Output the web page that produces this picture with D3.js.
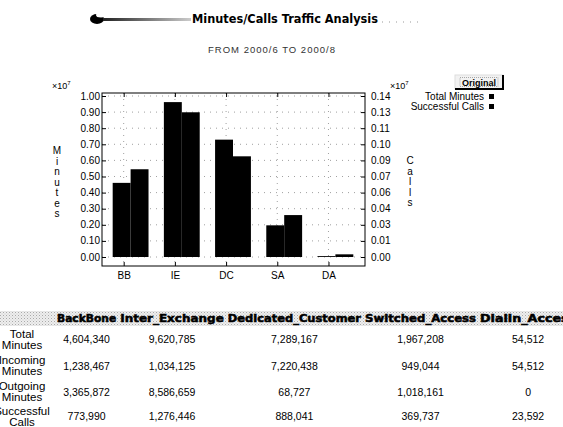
<!DOCTYPE html>
<html>
<head>
<meta charset="utf-8">
<script src="https://cdn.jsdelivr.net/npm/d3@7"></script>
<style>
  html, body { margin: 0; padding: 0; background: #fff; overflow: hidden; }
  svg { display: block; font-family: "Liberation Sans", Arial, sans-serif; }
</style>
</head>
<body>
<svg id="chart" width="563" height="427"></svg>
<script>
// chart data
const categories = ["BB", "IE", "DC", "SA", "DA"];
const totalMinutes = [4604340, 9620785, 7289167, 1967208, 54512];
const successfulCalls = [773990, 1276446, 888041, 369737, 23592];
const leftTickLabels = ["0.00", "0.10", "0.20", "0.30", "0.40", "0.50", "0.60", "0.70", "0.80", "0.90", "1.00"];
const rightTickLabels = ["0.00", "0.01", "0.03", "0.04", "0.06", "0.07", "0.09", "0.10", "0.11", "0.13", "0.14"];
const leftMax = 1.0;    // x10^7 minutes
const rightMax = 0.142; // x10^7 calls

// table data
const tableColumns = ["BackBone", "Inter_Exchange", "Dedicated_Customer", "Switched_Access", "Dialin_Access"];
const rowLabels = [["Total", "Minutes"], ["Incoming", "Minutes"], ["Outgoing", "Minutes"], ["Successful", "Calls"]];
const incomingMinutes = [1238467, 1034125, 7220438, 949044, 54512];
const outgoingMinutes = [3365872, 8586659, 68727, 1018161, 0];
const tableRows = [totalMinutes, incomingMinutes, outgoingMinutes, successfulCalls];

const svg = d3.select("#chart");
const defs = svg.append("defs");

// ---------- title ----------
const grad = defs.append("linearGradient").attr("id", "swoosh");
grad.append("stop").attr("offset", "0%").attr("stop-color", "#222");
grad.append("stop").attr("offset", "100%").attr("stop-color", "#ccc");

svg.append("ellipse").attr("cx", 97).attr("cy", 19).attr("rx", 7).attr("ry", 5).attr("fill", "#000");
svg.append("ellipse").attr("cx", 101).attr("cy", 15).attr("rx", 5).attr("ry", 2.5).attr("fill", "#fff");
svg.append("rect").attr("x", 103).attr("y", 18).attr("width", 88).attr("height", 3).attr("fill", "url(#swoosh)");

svg.append("text")
    .attr("x", 192).attr("y", 23)
    .attr("textLength", 186).attr("lengthAdjust", "spacingAndGlyphs")
    .style("font-family", "'DejaVu Sans', sans-serif")
    .style("font-weight", "bold").style("font-size", "12px")
    .text("Minutes/Calls Traffic Analysis");

svg.append("line")
    .attr("x1", 382).attr("x2", 420).attr("y1", 22).attr("y2", 22)
    .attr("stroke", "#999").attr("stroke-dasharray", "1,6");

svg.append("text")
    .attr("x", 272).attr("y", 53).attr("text-anchor", "middle")
    .style("font-size", "9.5px").style("letter-spacing", "1px").attr("fill", "#333")
    .text("FROM 2000/6 TO 2000/8");

// ---------- plot ----------
const frame = { left: 102, right: 365, top: 93, bottom: 266 };
const x = d3.scaleBand().domain(categories).range([105, 361]).paddingInner(0.3).paddingOuter(0.15);
const yL = d3.scaleLinear().domain([0, leftMax * 1e7]).range([257, 96]);
const yR = d3.scaleLinear().domain([0, rightMax * 1e7]).range([257, 96]);
const half = x.bandwidth() / 2;
const tickX = c => x(c) + 11;
const xTicks = d3.scalePoint().domain(categories).range([tickX(categories[0]), tickX(categories[categories.length - 1])]);

const leftTicks = leftTickLabels.map((d, i) => i * leftMax / 10 * 1e7);
const rightTicks = rightTickLabels.map((d, i) => i * rightMax / 10 * 1e7);

// grid
const grid = svg.append("g").attr("stroke", "#888").attr("stroke-dasharray", "1,5").attr("stroke-width", 0.8);
grid.selectAll(".gh").data(leftTicks).join("line")
    .attr("x1", frame.left).attr("x2", frame.right)
    .attr("y1", d => yL(d)).attr("y2", d => yL(d));
grid.selectAll(".gv").data(categories).join("line")
    .attr("x1", tickX).attr("x2", tickX)
    .attr("y1", frame.top).attr("y2", frame.bottom);

// bars
svg.append("g").selectAll("rect").data(categories).join("rect")
    .attr("x", c => x(c)).attr("width", half)
    .attr("y", (c, i) => yL(totalMinutes[i]))
    .attr("height", (c, i) => yL(0) - yL(totalMinutes[i]))
    .attr("fill", "#000");
svg.append("g").selectAll("rect").data(categories).join("rect")
    .attr("x", c => x(c) + half).attr("width", half)
    .attr("y", (c, i) => yR(successfulCalls[i]))
    .attr("height", (c, i) => yR(0) - yR(successfulCalls[i]))
    .attr("fill", "#000");

// frame
svg.append("rect")
    .attr("x", frame.left).attr("y", frame.top)
    .attr("width", frame.right - frame.left).attr("height", frame.bottom - frame.top)
    .attr("fill", "none").attr("stroke", "#000").attr("stroke-width", 1);

// axes (ticks inward)
const axL = svg.append("g").attr("transform", `translate(${frame.left},0)`)
    .call(d3.axisRight(yL).tickValues(leftTicks).tickSize(4).tickFormat(""));
const axR = svg.append("g").attr("transform", `translate(${frame.right},0)`)
    .call(d3.axisLeft(yR).tickValues(rightTicks).tickSize(4).tickFormat(""));
const axB = svg.append("g").attr("transform", `translate(0,${frame.bottom})`)
    .call(d3.axisTop(xTicks).tickSize(4));
const axT = svg.append("g").attr("transform", `translate(0,${frame.top})`)
    .call(d3.axisBottom(xTicks).tickSize(4).tickFormat(""));
[axL, axR, axB, axT].forEach(a => {
    a.select(".domain").remove();
    a.selectAll("line").attr("stroke", "#000");
});
axB.selectAll("text").attr("y", 13).attr("dy", 0).style("font-size", "10px")
    .style("font-family", "'Liberation Sans', Arial, sans-serif").attr("fill", "#000");

// tick labels
svg.append("g").selectAll("text").data(leftTicks).join("text")
    .attr("x", 100).attr("y", d => yL(d) + 3.5).attr("text-anchor", "end")
    .style("font-size", "10px").text((d, i) => leftTickLabels[i]);
svg.append("g").selectAll("text").data(rightTicks).join("text")
    .attr("x", 371).attr("y", d => yR(d) + 3.5)
    .style("font-size", "10px").text((d, i) => rightTickLabels[i]);

// multipliers
function mult(xp, yp) {
    const t = svg.append("text").attr("x", xp).attr("y", yp).style("font-size", "9px");
    t.append("tspan").text("\u00d710");
    t.append("tspan").attr("dy", -4).style("font-size", "6px").text("7");
}
mult(52, 89);
mult(390, 89);

// vertical axis titles
function stacked(str, xp, y0) {
    svg.append("g").selectAll("text").data(str.split("")).join("text")
        .attr("x", xp).attr("y", (d, i) => y0 + i * 10.5).attr("text-anchor", "middle")
        .style("font-size", "10px").text(d => d);
}
stacked("Minutes", 57, 154);
stacked("Calls", 410, 164);

// legend
const legendItems = ["Total Minutes", "Successful Calls"];
const leg = svg.append("g").selectAll("g").data(legendItems).join("g")
    .attr("transform", (d, i) => `translate(0,${100 + i * 10})`);
leg.append("text").attr("x", 484).attr("y", 0).attr("text-anchor", "end")
    .style("font-size", "10px").text(d => d);
leg.append("rect").attr("x", 489).attr("y", -6).attr("width", 5).attr("height", 5).attr("fill", "#000");

// "Original" button
const btn = svg.append("g");
btn.append("rect").attr("x", 455).attr("y", 75).attr("width", 48).attr("height", 14)
    .attr("fill", "#f2f2f2").attr("stroke", "#ddd");
btn.append("path").attr("d", "M503,75 V89 H455").attr("fill", "none").attr("stroke", "#000").attr("stroke-width", 2);
btn.append("rect").attr("x", 460).attr("y", 77.5).attr("width", 38).attr("height", 9)
    .attr("fill", "none").attr("stroke", "#777").attr("stroke-dasharray", "1,1").attr("stroke-width", 0.6);
btn.append("text").attr("x", 479).attr("y", 85.5).attr("text-anchor", "middle")
    .style("font-size", "9px").style("font-weight", "bold").text("Original");

// ---------- table ----------
const pat = defs.append("pattern").attr("id", "stipple")
    .attr("width", 3).attr("height", 3).attr("patternUnits", "userSpaceOnUse");
pat.append("rect").attr("width", 3).attr("height", 3).attr("fill", "#eeeeee");
pat.append("rect").attr("width", 1).attr("height", 1).attr("fill", "#aaaaaa");
pat.append("rect").attr("x", 1.5).attr("y", 1.5).attr("width", 1).attr("height", 1).attr("fill", "#c8c8c8");

svg.append("rect").attr("x", 0).attr("y", 311).attr("width", 563).attr("height", 15).attr("fill", "url(#stipple)");

const charW = 7.4, gap = 4;
const colStart = [];
tableColumns.reduce((acc, c) => { colStart.push(acc); return acc + c.length * charW + gap; }, 57);
const colCenter = tableColumns.map((c, i) => colStart[i] + c.length * charW / 2);

svg.append("g").selectAll("text").data(tableColumns).join("text")
    .attr("x", (d, i) => colStart[i]).attr("y", 322)
    .attr("textLength", d => d.length * charW).attr("lengthAdjust", "spacingAndGlyphs")
    .style("font-family", "'DejaVu Sans', sans-serif").style("font-weight", "bold")
    .style("font-size", "10px").attr("stroke", "#000").attr("stroke-width", 0.5)
    .text(d => d);

const fmt = d3.format(",");
const rowY = [339, 365.5, 391.5, 416];
const rows = svg.append("g").selectAll("g").data(tableRows).join("g")
    .attr("transform", (d, i) => `translate(0,${rowY[i]})`);
rows.each(function(vals, r) {
    const g = d3.select(this);
    g.selectAll(".lab").data(rowLabels[r]).join("text")
        .attr("x", 22).attr("y", (d, i) => i === 0 ? -1.5 : 9.5).attr("text-anchor", "middle")
        .style("font-size", "11.5px").text(d => d);
    g.selectAll(".val").data(vals).join("text")
        .attr("x", (d, i) => colCenter[i]).attr("y", 4).attr("text-anchor", "middle")
        .style("font-size", "10.5px").text(d => fmt(d));
});
</script>
</body>
</html>
